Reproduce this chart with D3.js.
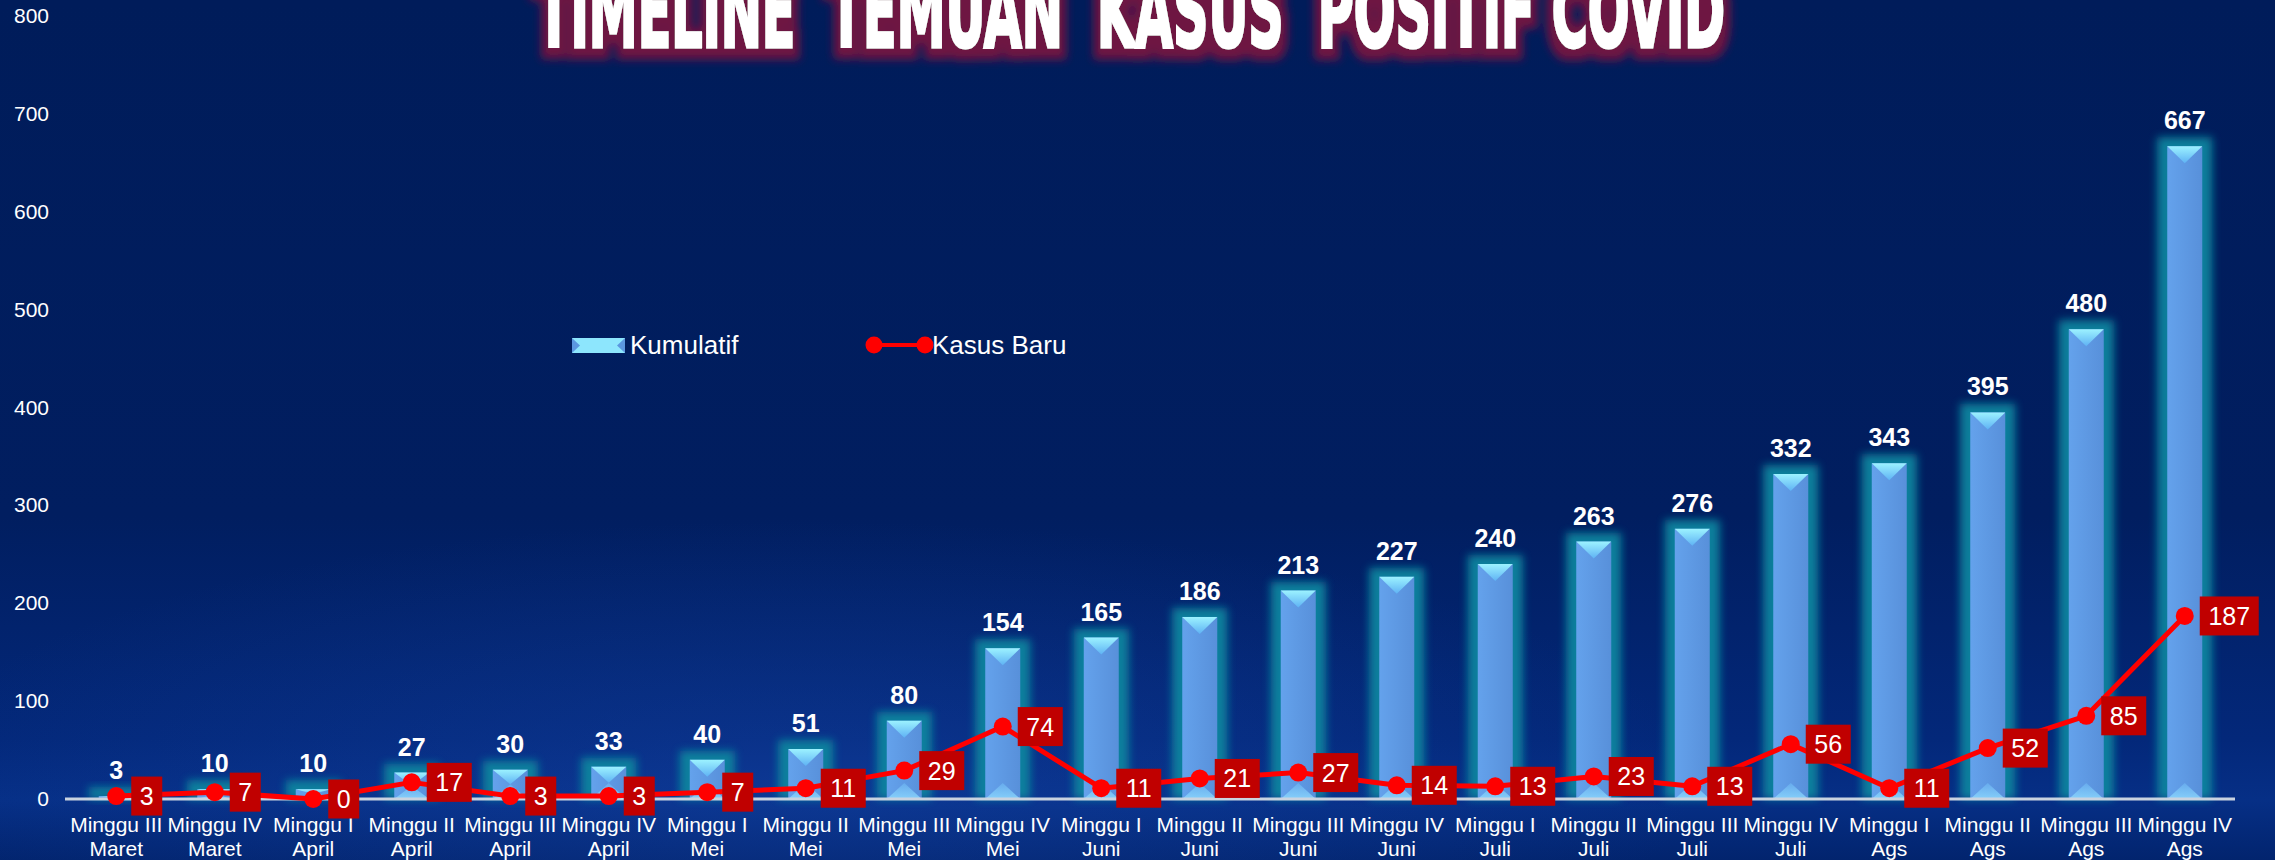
<!DOCTYPE html>
<meta charset="utf-8">
<script src="https://d3js.org/d3.v7.min.js"></script>
<style>
  body { margin: 0; background: #001d5c; }
  text { font-family: "Liberation Sans", Arial, sans-serif; }
</style>
<body>
<div id="my_dataviz"></div>
</body>
<script>

  // data
  const weeks = ["Minggu III", "Minggu IV", "Minggu I", "Minggu II", "Minggu III", "Minggu IV",
                 "Minggu I", "Minggu II", "Minggu III", "Minggu IV", "Minggu I", "Minggu II",
                 "Minggu III", "Minggu IV", "Minggu I", "Minggu II", "Minggu III", "Minggu IV",
                 "Minggu I", "Minggu II", "Minggu III", "Minggu IV"]
  const months = ["Maret", "Maret", "April", "April", "April", "April", "Mei", "Mei", "Mei", "Mei",
                  "Juni", "Juni", "Juni", "Juni", "Juli", "Juli", "Juli", "Juli",
                  "Ags", "Ags", "Ags", "Ags"]
  const kumulatif = [3, 10, 10, 27, 30, 33, 40, 51, 80, 154, 165, 186, 213, 227, 240, 263, 276, 332, 343, 395, 480, 667]
  const kasusBaru = [3, 7, 0, 17, 3, 3, 7, 11, 29, 74, 11, 21, 27, 14, 13, 23, 13, 56, 11, 52, 85, 187]
  const yTicks = [0, 100, 200, 300, 400, 500, 600, 700, 800]
  const title = "TIMELINE  TEMUAN  KASUS  POSITIF COVID"

  const width = 2275, height = 860

  const data = weeks.map((w, i) => ({ key: i, week: w, month: months[i], kum: kumulatif[i], baru: kasusBaru[i] }))

  const svg = d3.select("#my_dataviz")
    .append("svg")
    .attr("width", width)
    .attr("height", height)

  const defs = svg.append("defs")

  // background gradient
  const bg = defs.append("linearGradient").attr("id", "bg").attr("x1", 0).attr("y1", 0).attr("x2", 0).attr("y2", 1)
  bg.append("stop").attr("offset", "0%").attr("stop-color", "#001c5a")
  bg.append("stop").attr("offset", "60%").attr("stop-color", "#011e60")
  bg.append("stop").attr("offset", "86%").attr("stop-color", "#03287a")
  bg.append("stop").attr("offset", "93%").attr("stop-color", "#062f86")
  bg.append("stop").attr("offset", "100%").attr("stop-color", "#02246e")

  const glowR = defs.append("radialGradient").attr("id", "bgGlow")
    .attr("cx", 0.5).attr("cy", 0.5).attr("r", 0.5)
  glowR.append("stop").attr("offset", "0%").attr("stop-color", "#1a4ab0").attr("stop-opacity", 0.35)
  glowR.append("stop").attr("offset", "100%").attr("stop-color", "#1a4ab0").attr("stop-opacity", 0)

  // bar gradients
  const barFill = defs.append("linearGradient").attr("id", "barFill").attr("x1", 0).attr("x2", 1)
  barFill.append("stop").attr("offset", "0%").attr("stop-color", "#64a2ec")
  barFill.append("stop").attr("offset", "50%").attr("stop-color", "#5e99e3")
  barFill.append("stop").attr("offset", "100%").attr("stop-color", "#5890da")

  const topFill = defs.append("linearGradient").attr("id", "topFill").attr("x1", 0).attr("y1", 0).attr("x2", 0).attr("y2", 1)
  topFill.append("stop").attr("offset", "0%").attr("stop-color", "#9cf2ff")
  topFill.append("stop").attr("offset", "100%").attr("stop-color", "#5fb2f4")

  const botFill = defs.append("linearGradient").attr("id", "botFill").attr("x1", 0).attr("y1", 1).attr("x2", 0).attr("y2", 0)
  botFill.append("stop").attr("offset", "0%").attr("stop-color", "#8fdcff")
  botFill.append("stop").attr("offset", "100%").attr("stop-color", "#6ab0f0")

  // glow around bars
  const blur = defs.append("filter").attr("id", "blur").attr("x", "-50%").attr("y", "-50%").attr("width", "200%").attr("height", "200%")
  blur.append("feGaussianBlur").attr("stdDeviation", 4)

  // title glow
  const tg = defs.append("filter").attr("id", "titleGlow").attr("x", "-5%").attr("y", "-60%").attr("width", "110%").attr("height", "220%")
  tg.append("feMorphology").attr("in", "SourceAlpha").attr("operator", "dilate").attr("radius", 7).attr("result", "dil")
  tg.append("feGaussianBlur").attr("in", "dil").attr("stdDeviation", 4).attr("result", "bl")
  tg.append("feFlood").attr("flood-color", "#6e1442").attr("result", "fl")
  tg.append("feComposite").attr("in", "fl").attr("in2", "bl").attr("operator", "in").attr("result", "gl")
  tg.append("feOffset").attr("in", "gl").attr("dy", 4).attr("result", "off")
  const tm = tg.append("feMerge")
  tm.append("feMergeNode").attr("in", "off")
  tm.append("feMergeNode").attr("in", "SourceGraphic")

  // background
  svg.append("rect").attr("width", width).attr("height", height).attr("fill", "url(#bg)")
  svg.append("ellipse").attr("cx", 800).attr("cy", 780).attr("rx", 900).attr("ry", 260).attr("fill", "url(#bgGlow)")

  // scales
  const x = d3.scaleBand().domain(data.map(d => d.key)).range([67, 2234])
  const y = d3.scaleLinear().domain([0, 800]).range([799, 16])
  const bw = 35

  // y axis labels
  svg.append("g")
    .selectAll("text")
    .data(yTicks)
    .join("text")
      .attr("x", 49)
      .attr("y", d => y(d) + 7)
      .attr("text-anchor", "end")
      .attr("fill", "white")
      .style("font-size", "21px")
      .text(d => d)

  // bars
  const bars = svg.append("g")
    .selectAll("g")
    .data(data)
    .join("g")

  bars.append("rect")
    .attr("x", d => x(d.key) + x.bandwidth() / 2 - bw / 2 - 10)
    .attr("y", d => y(d.kum) - 9)
    .attr("width", bw + 20)
    .attr("height", d => y(0) - y(d.kum) + 9)
    .attr("fill", "#0a849f")
    .attr("opacity", 0.95)
    .attr("filter", "url(#blur)")

  bars.append("rect")
    .attr("x", d => x(d.key) + x.bandwidth() / 2 - bw / 2)
    .attr("y", d => y(d.kum))
    .attr("width", bw)
    .attr("height", d => y(0) - y(d.kum))
    .attr("fill", "url(#barFill)")

  bars.append("path")
    .attr("d", d => {
      const cx = x(d.key) + x.bandwidth() / 2, t = y(d.kum), h = Math.min(17, (y(0) - t) / 2)
      return `M${cx - bw / 2},${t}L${cx + bw / 2},${t}L${cx},${t + h}Z`
    })
    .attr("fill", "url(#topFill)")

  bars.append("path")
    .attr("d", d => {
      const cx = x(d.key) + x.bandwidth() / 2, b = y(0), h = Math.min(16, (b - y(d.kum)) / 2)
      return `M${cx - bw / 2},${b}L${cx + bw / 2},${b}L${cx},${b - h}Z`
    })
    .attr("fill", "url(#botFill)")
    .attr("opacity", 0.8)

  // bar value labels
  svg.append("g")
    .selectAll("text")
    .data(data)
    .join("text")
      .attr("x", d => x(d.key) + x.bandwidth() / 2)
      .attr("y", d => y(d.kum) - 17)
      .attr("text-anchor", "middle")
      .attr("fill", "white")
      .style("font-size", "25px")
      .style("font-weight", "bold")
      .text(d => d.kum)

  // x axis line
  svg.append("line")
    .attr("x1", 65).attr("x2", 2235)
    .attr("y1", y(0)).attr("y2", y(0))
    .attr("stroke", "#c9d3e0")
    .attr("stroke-width", 3)

  // x axis labels (two lines)
  const xl = svg.append("g")
    .selectAll("text")
    .data(data)
    .join("text")
      .attr("text-anchor", "middle")
      .attr("fill", "white")
      .style("font-size", "21px")
  xl.append("tspan")
    .attr("x", d => x(d.key) + x.bandwidth() / 2)
    .attr("y", 832)
    .text(d => d.week)
  xl.append("tspan")
    .attr("x", d => x(d.key) + x.bandwidth() / 2)
    .attr("y", 856)
    .text(d => d.month)

  // line: kasus baru
  const line = d3.line()
    .x(d => x(d.key) + x.bandwidth() / 2)
    .y(d => y(d.baru))

  svg.append("path")
    .datum(data)
    .attr("d", line)
    .attr("fill", "none")
    .attr("stroke", "#ff0000")
    .attr("stroke-width", 5)
    .attr("stroke-linejoin", "round")

  svg.append("g")
    .selectAll("circle")
    .data(data)
    .join("circle")
      .attr("cx", d => x(d.key) + x.bandwidth() / 2)
      .attr("cy", d => y(d.baru))
      .attr("r", 9)
      .attr("fill", "#ff0000")

  // red boxed labels
  const boxes = svg.append("g")
    .selectAll("g")
    .data(data)
    .join("g")
      .attr("transform", d => `translate(${x(d.key) + x.bandwidth() / 2 + 15},${y(d.baru)})`)

  boxes.append("rect")
    .attr("x", 0)
    .attr("y", -19.5)
    .attr("width", d => String(d.baru).length * 14 + 17)
    .attr("height", 39)
    .attr("fill", "#c00000")

  boxes.append("text")
    .attr("x", d => (String(d.baru).length * 14 + 17) / 2)
    .attr("y", 9)
    .attr("text-anchor", "middle")
    .attr("fill", "white")
    .style("font-size", "25px")
    .text(d => d.baru)

  // legend
  const leg = svg.append("g")
  leg.append("rect").attr("x", 572).attr("y", 338).attr("width", 53).attr("height", 15).attr("fill", "#8de6fd")
  leg.append("path").attr("d", "M572,338L580,345.5L572,353Z").attr("fill", "#5b97e0")
  leg.append("path").attr("d", "M625,338L617,345.5L625,353Z").attr("fill", "#5b97e0")
  leg.append("text").attr("x", 630).attr("y", 354).attr("fill", "white").style("font-size", "26px").text("Kumulatif")

  leg.append("line").attr("x1", 874).attr("x2", 925).attr("y1", 345).attr("y2", 345)
    .attr("stroke", "#ff0000").attr("stroke-width", 4)
  leg.selectAll("circle").data([874, 925]).join("circle")
    .attr("cx", d => d).attr("cy", 345).attr("r", 8.5).attr("fill", "#ff0000")
  leg.append("text").attr("x", 932).attr("y", 354).attr("fill", "white").style("font-size", "26px").text("Kasus Baru")

  // title
  svg.append("text")
    .attr("x", 537)
    .attr("y", 47)
    .attr("textLength", 1188)
    .attr("lengthAdjust", "spacingAndGlyphs")
    .attr("fill", "white")
    .attr("stroke", "white")
    .attr("stroke-width", 3)
    .attr("filter", "url(#titleGlow)")
    .style("font-family", "'DejaVu Sans Condensed', 'DejaVu Sans', sans-serif")
    .style("font-weight", "bold")
    .style("font-size", "100px")
    .style("white-space", "pre")
    .text(title)

</script>
